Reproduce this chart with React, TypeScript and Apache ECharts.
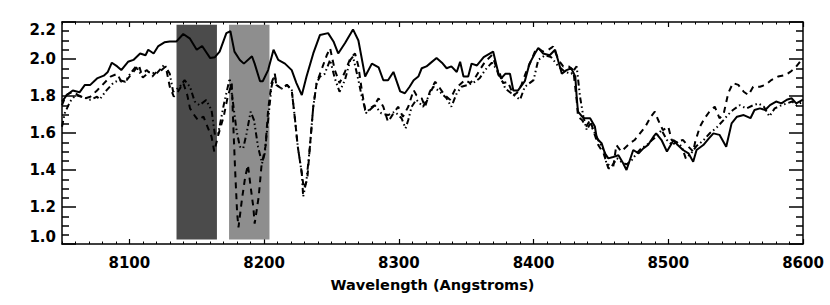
import React, { useEffect, useRef } from "react";
import * as echarts from "echarts";

// Wavelength (Angstroms) and flux values for the three spectra
const solidLam = [8050, 8053.5, 8058, 8063, 8067, 8071, 8076, 8081, 8084, 8087, 8091, 8094, 8099, 8103, 8108, 8112, 8114, 8118, 8121.5, 8126, 8130, 8135, 8140, 8145, 8150, 8154, 8160, 8163.5, 8167, 8172, 8175, 8178, 8182, 8185, 8191, 8193, 8197, 8199, 8203, 8207, 8210.5, 8215.5, 8220.5, 8224, 8228, 8231.5, 8236.5, 8241.5, 8247.5, 8251.5, 8255, 8260, 8266, 8270, 8275, 8280, 8285, 8288.5, 8292, 8296, 8301, 8304.5, 8308, 8311, 8314.5, 8317, 8320.5, 8323, 8328, 8332, 8335.5, 8339, 8343, 8345.5, 8348, 8351.5, 8354, 8358, 8363, 8370, 8374, 8376, 8379, 8382.5, 8385, 8388.5, 8393.5, 8397, 8401, 8403.5, 8407, 8412, 8416, 8421, 8424.5, 8428, 8431, 8432, 8433, 8437, 8442, 8445.5, 8447, 8450.5, 8453, 8455.5, 8459, 8463, 8466.5, 8469, 8471.5, 8474, 8478, 8481.5, 8485, 8489, 8491, 8495, 8499, 8504, 8507, 8511, 8515, 8518.5, 8521, 8526, 8530, 8533.5, 8538, 8543, 8547, 8551, 8556, 8561, 8564, 8568, 8572, 8575.5, 8580, 8584, 8588, 8591.5, 8595, 8600];
const solidVal = [1.77, 1.805, 1.83, 1.82, 1.86, 1.86, 1.895, 1.91, 1.93, 1.98, 1.96, 1.94, 1.985, 1.995, 2.03, 2.02, 2.05, 2.03, 2.07, 2.09, 2.095, 2.095, 2.135, 2.11, 2.05, 2.07, 2.005, 2.01, 2.04, 2.14, 2.15, 2.04, 1.995, 1.975, 2.015, 1.975, 1.88, 1.88, 1.94, 2.05, 1.995, 1.975, 1.94, 1.87, 1.805, 1.905, 2.03, 2.13, 2.14, 2.095, 2.03, 2.085, 2.16, 2.1, 1.905, 1.975, 1.955, 1.885, 1.885, 1.93, 1.825, 1.815, 1.85, 1.885, 1.905, 1.95, 1.96, 1.975, 2.005, 1.98, 1.95, 1.96, 1.93, 1.985, 1.905, 1.905, 1.975, 1.965, 2.01, 2.04, 1.92, 1.895, 1.92, 1.92, 1.83, 1.83, 1.88, 1.975, 2.03, 2.06, 2.03, 2.02, 2.05, 1.92, 1.94, 1.95, 1.905, 1.795, 1.715, 1.68, 1.68, 1.635, 1.57, 1.545, 1.49, 1.463, 1.47, 1.48, 1.436, 1.4, 1.454, 1.508, 1.49, 1.517, 1.535, 1.58, 1.598, 1.562, 1.5, 1.562, 1.535, 1.508, 1.49, 1.445, 1.508, 1.535, 1.57, 1.598, 1.59, 1.526, 1.652, 1.688, 1.697, 1.68, 1.724, 1.733, 1.724, 1.751, 1.77, 1.76, 1.78, 1.788, 1.76, 1.78];

const dashLam = [8050, 8053, 8058, 8062, 8067, 8071, 8076, 8086, 8091, 8094, 8098, 8104, 8107, 8109, 8113, 8117, 8120, 8124, 8127, 8130, 8133, 8136, 8140, 8143, 8145, 8149, 8151, 8155, 8159, 8161, 8163, 8166, 8170, 8173, 8176, 8177, 8178.5, 8180, 8181, 8183.5, 8186, 8188, 8190, 8192, 8193, 8196, 8198, 8201, 8203, 8205.5, 8208, 8209, 8213, 8217, 8220.5, 8223, 8225, 8228, 8229.5, 8232, 8234, 8236.5, 8239, 8242, 8246.5, 8249, 8252.5, 8256, 8260, 8264, 8267.5, 8270, 8272.5, 8275, 8277, 8281, 8285, 8288.5, 8292, 8296, 8299.5, 8303, 8307, 8311, 8313, 8317, 8319.5, 8323, 8327, 8330.5, 8334, 8338, 8341.5, 8345, 8349, 8353, 8356.5, 8360, 8364, 8369, 8371, 8374, 8377.5, 8381, 8385, 8387.5, 8391, 8395, 8398.5, 8401, 8403.5, 8407, 8411, 8414.5, 8418.5, 8422, 8426, 8429.5, 8432, 8433, 8436, 8439, 8442, 8445, 8448, 8452, 8455.5, 8459, 8461.5, 8465, 8471.5, 8475, 8479, 8483, 8487, 8490, 8492.5, 8496, 8500, 8502.5, 8506, 8511, 8515, 8518.5, 8520, 8523.5, 8527, 8530.5, 8534.5, 8538, 8541, 8544.5, 8548, 8552, 8556, 8559.5, 8563, 8568, 8572, 8576.5, 8581.5, 8587, 8590.5, 8594, 8600];
const dashVal = [1.75, 1.805, 1.823, 1.805, 1.787, 1.796, 1.83, 1.905, 1.92, 1.877, 1.886, 1.94, 1.968, 1.92, 1.94, 1.905, 1.93, 1.94, 1.96, 1.85, 1.796, 1.823, 1.87, 1.805, 1.733, 1.688, 1.67, 1.688, 1.616, 1.58, 1.5, 1.59, 1.688, 1.796, 1.87, 1.67, 1.4, 1.166, 1.09, 1.238, 1.364, 1.427, 1.31, 1.2, 1.11, 1.256, 1.418, 1.526, 1.724, 1.87, 1.92, 1.86, 1.84, 1.86, 1.832, 1.67, 1.526, 1.382, 1.3, 1.346, 1.526, 1.742, 1.87, 1.93, 2.02, 2.058, 1.94, 1.87, 1.93, 2.004, 2.03, 1.96, 1.832, 1.724, 1.715, 1.742, 1.787, 1.742, 1.66, 1.706, 1.742, 1.688, 1.742, 1.832, 1.805, 1.787, 1.742, 1.823, 1.877, 1.842, 1.805, 1.78, 1.832, 1.86, 1.886, 1.87, 1.896, 1.94, 1.985, 2.02, 1.985, 1.913, 1.87, 1.877, 1.805, 1.815, 1.86, 1.94, 1.995, 2.04, 2.058, 2.04, 2.05, 2.067, 1.995, 1.96, 1.96, 1.94, 1.78, 1.688, 1.67, 1.634, 1.67, 1.6, 1.535, 1.49, 1.41, 1.41, 1.535, 1.5, 1.544, 1.562, 1.598, 1.634, 1.688, 1.715, 1.67, 1.616, 1.634, 1.562, 1.553, 1.562, 1.526, 1.5, 1.553, 1.634, 1.68, 1.715, 1.742, 1.68, 1.7, 1.815, 1.87, 1.86, 1.823, 1.805, 1.85, 1.85, 1.86, 1.886, 1.905, 1.913, 1.93, 1.95, 2.005];

const dotLam = [8050, 8052, 8056, 8060, 8064.5, 8071, 8076, 8078, 8083, 8088, 8092, 8097, 8100.5, 8105, 8110, 8115, 8120, 8126, 8130, 8132.5, 8137.5, 8141, 8145, 8148.5, 8152, 8157, 8161, 8163.5, 8166, 8170, 8174.5, 8177, 8179.5, 8182, 8184.5, 8187, 8190, 8192.5, 8195.5, 8198.5, 8200.5, 8203, 8205.5, 8208, 8209, 8213, 8217, 8220.5, 8223, 8225, 8228, 8229, 8231.5, 8234, 8236.5, 8239, 8241.5, 8245, 8249, 8252.5, 8256, 8260, 8264, 8266, 8270, 8272.5, 8276, 8278.5, 8282, 8287, 8292, 8297, 8302, 8305, 8307, 8309.5, 8313, 8318, 8322, 8325.5, 8330.5, 8335.5, 8339, 8343, 8346.5, 8351.5, 8356.5, 8360, 8364, 8369, 8375, 8379, 8383.5, 8390, 8393.5, 8400, 8403.5, 8408.5, 8413, 8418.5, 8423.5, 8428, 8432, 8434.5, 8437, 8439.5, 8442, 8448, 8453, 8454, 8458, 8462, 8465, 8469, 8473, 8476.5, 8480, 8484, 8488, 8491, 8495, 8499, 8503, 8506, 8510, 8513, 8517, 8521, 8526, 8531, 8536, 8541, 8544.5, 8548, 8553, 8558, 8563, 8567, 8571, 8575, 8579, 8584, 8588, 8592, 8595, 8600];
const dotVal = [1.634, 1.706, 1.77, 1.805, 1.796, 1.78, 1.796, 1.782, 1.83, 1.87, 1.886, 1.877, 1.92, 1.96, 1.9, 1.93, 1.92, 1.97, 1.92, 1.823, 1.85, 1.886, 1.85, 1.77, 1.75, 1.778, 1.724, 1.59, 1.598, 1.75, 1.896, 1.76, 1.616, 1.526, 1.517, 1.598, 1.715, 1.67, 1.526, 1.436, 1.49, 1.67, 1.85, 1.92, 1.86, 1.84, 1.86, 1.832, 1.67, 1.526, 1.382, 1.256, 1.346, 1.526, 1.742, 1.87, 1.905, 1.92, 1.995, 1.895, 1.823, 1.886, 1.995, 2.013, 1.886, 1.796, 1.706, 1.733, 1.75, 1.706, 1.697, 1.715, 1.68, 1.625, 1.67, 1.742, 1.78, 1.742, 1.796, 1.85, 1.823, 1.787, 1.742, 1.815, 1.85, 1.86, 1.877, 1.896, 1.94, 1.98, 1.92, 1.84, 1.815, 1.78, 1.85, 1.886, 1.995, 2.02, 2.01, 1.96, 1.93, 1.92, 1.96, 1.796, 1.688, 1.616, 1.65, 1.562, 1.49, 1.436, 1.42, 1.463, 1.445, 1.43, 1.454, 1.49, 1.517, 1.535, 1.562, 1.58, 1.616, 1.562, 1.535, 1.553, 1.526, 1.463, 1.49, 1.53, 1.56, 1.6, 1.63, 1.67, 1.7, 1.724, 1.75, 1.733, 1.75, 1.76, 1.742, 1.69, 1.733, 1.75, 1.76, 1.77, 1.75, 1.77];

// Shaded wavelength bands [start, end, flux bottom, flux top]
const darkBand = [8135, 8165, 1.025, 2.185];
const lightBand = [8174, 8204, 1.025, 2.185];

const xMajorTicks = [8100, 8200, 8300, 8400, 8500, 8600];
const xTitle = "Wavelength (Angstroms)";

const zip = (a: number[], b: number[]) => a.map((x, i) => [x, b[i]]);

const FONT = "DejaVu Sans";

export default function App() {
  const ref = useRef<HTMLDivElement>(null);
  useEffect(() => {
    if (!ref.current) return;
    const chart = echarts.init(ref.current, undefined, { renderer: "svg" });
    const axisLine = { show: true, lineStyle: { color: "#000", width: 1.5 } };
    const baseX = {
      type: "value",
      min: 8050,
      max: 8600,
      splitLine: { show: false },
    };
    const minorX = (position: string) => ({
      ...baseX,
      position,
      interval: 10,
      axisLine,
      axisTick: { show: true, inside: true, length: 2.5, lineStyle: { color: "#000", width: 1 } },
      axisLabel: { show: false },
    });
    const majorX = (position: string, labels: boolean) => ({
      ...baseX,
      position,
      axisLine: { show: false },
      axisTick: {
        show: true,
        inside: true,
        length: 5,
        customValues: xMajorTicks,
        lineStyle: { color: "#000", width: 1.2 },
      },
      axisLabel: labels
        ? {
            show: true,
            customValues: xMajorTicks,
            formatter: (v: number) => String(Math.round(v)),
            color: "#000",
            fontFamily: FONT,
            fontWeight: "bold",
            fontSize: 15,
            margin: 11,
          }
        : { show: false },
      ...(labels
        ? {
            name: xTitle,
            nameLocation: "middle",
            nameGap: 33,
            nameTextStyle: { color: "#000", fontFamily: FONT, fontWeight: "bold", fontSize: 14.5 },
          }
        : {}),
    });
    const yAx = (position: string, labels: boolean) => ({
      type: "value",
      position,
      min: 1.0,
      max: 2.2,
      interval: 0.2,
      splitLine: { show: false },
      axisLine,
      axisTick: { show: true, inside: true, length: 14, lineStyle: { color: "#000", width: 1.5 } },
      minorTick: { show: true, splitNumber: 4, length: 7, lineStyle: { color: "#000", width: 1.5 } },
      minorSplitLine: { show: false },
      axisLabel: labels
        ? {
            show: true,
            color: "#000",
            fontFamily: FONT,
            fontWeight: "bold",
            fontSize: 15,
            margin: 6,
            formatter: (v: number) => v.toFixed(1),
            verticalAlignMinLabel: "bottom",
            verticalAlignMaxLabel: "top",
          }
        : { show: false },
    });
    const band = (b: number[], color: string) => [
      { xAxis: b[0], yAxis: b[2], itemStyle: { color, opacity: 1 } },
      { xAxis: b[1], yAxis: b[3] },
    ];
    chart.setOption({
      animation: false,
      backgroundColor: "#fff",
      grid: { left: 62, right: 27, top: 22, bottom: 61, containLabel: false },
      xAxis: [minorX("bottom"), majorX("bottom", true), minorX("top"), majorX("top", false)],
      yAxis: [yAx("left", true), yAx("right", false)],
      series: [
        {
          type: "line",
          data: [],
          xAxisIndex: 0,
          yAxisIndex: 0,
          z: 1,
          silent: true,
          markArea: {
            silent: true,
            data: [band(darkBand, "#4b4b4b"), band(lightBand, "#8e8e8e")],
          },
        },
        {
          type: "line",
          data: zip(dotLam, dotVal),
          showSymbol: false,
          symbol: "none",
          z: 5,
          lineStyle: { color: "#000", width: 2, type: [6, 3, 1.5, 3, 1.5, 3] },
        },
        {
          type: "line",
          data: zip(dashLam, dashVal),
          showSymbol: false,
          symbol: "none",
          z: 5,
          lineStyle: { color: "#000", width: 2, type: [6, 5] },
        },
        {
          type: "line",
          data: zip(solidLam, solidVal),
          showSymbol: false,
          symbol: "none",
          z: 6,
          lineStyle: { color: "#000", width: 2 },
        },
      ],
    });
    return () => chart.dispose();
  }, []);
  return (
    <div
      ref={ref}
      style={{ position: "absolute", left: 0, top: 0, width: 830, height: 305, background: "#fff" }}
    />
  );
}
